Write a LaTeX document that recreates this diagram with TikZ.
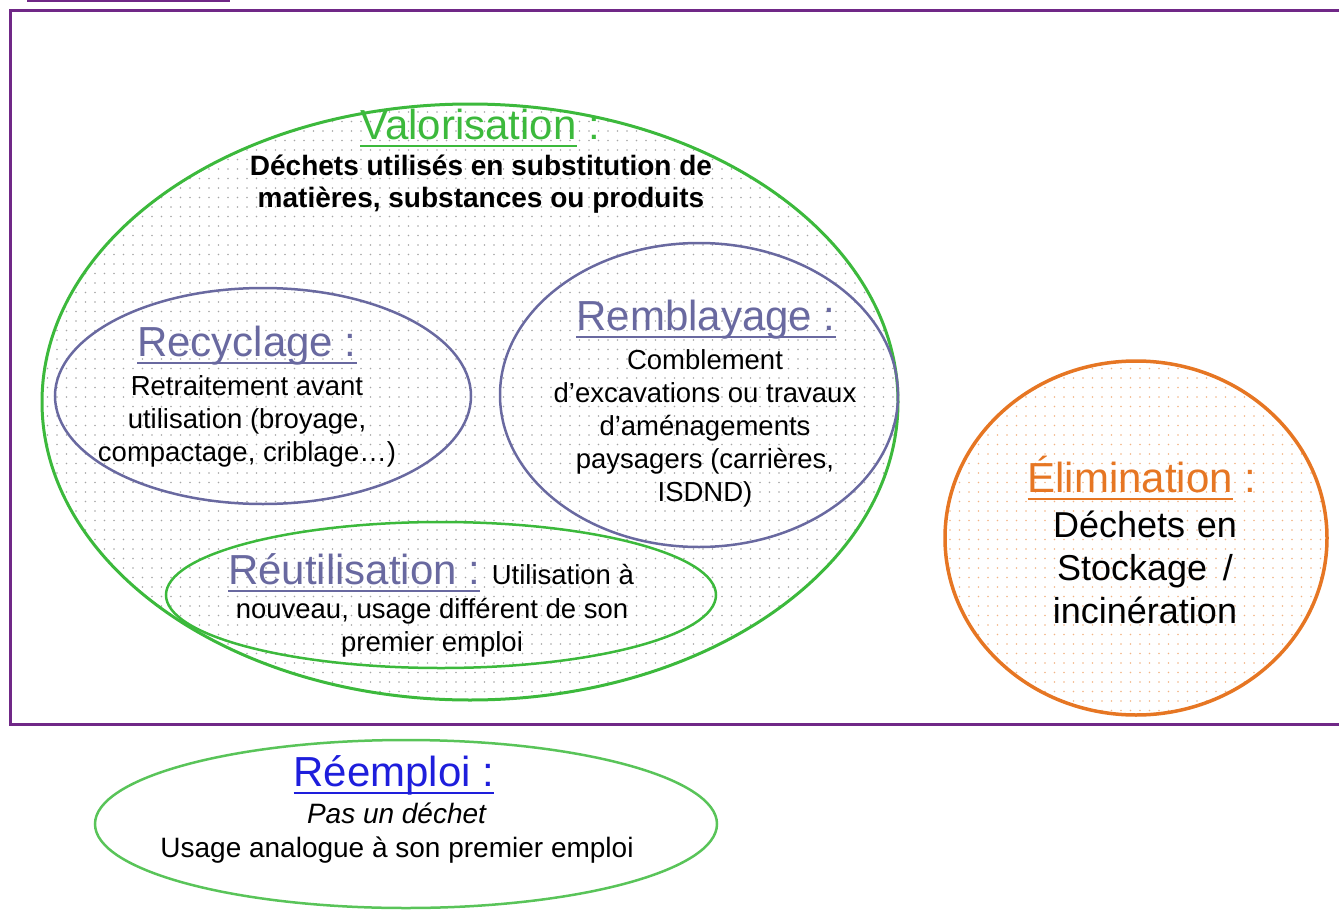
\documentclass[tikz,border=0pt]{standalone}
\usepackage{fontspec}
\setmainfont{Liberation Sans}
\usetikzlibrary{patterns.meta}
\definecolor{valgreen}{RGB}{60,185,60}
\definecolor{recblue}{RGB}{105,105,160}
\definecolor{elimorange}{RGB}{230,118,35}
\definecolor{framepurple}{RGB}{112,40,135}
\definecolor{reemblue}{RGB}{30,30,220}
\newcommand{\titleline}[1]{\setbox0\hbox{#1}\rlap{\rule[-8pt]{\wd0}{2.4pt}}\box0\relax}

\begin{document}
\begin{tikzpicture}[x=1pt,y=-1pt,
  headtext/.style={inner sep=0pt, anchor=base, font=\fontsize{42}{46}\selectfont},
  bodytext/.style={inner sep=0pt, align=center, font=\fontsize{27.5}{33}\selectfont},
  dotfill/.style={pattern={Dots[distance=9.5pt, radius=0.9pt]}, pattern color=#1}]

  \useasboundingbox (0,0) rectangle (1339,910);

  % Frame
  \draw[framepurple, line width=3pt] (1339,10) -- (10,10) -- (10,724) -- (1339,724);
  \draw[framepurple, line width=2pt] (27,1) -- (230,1);

  % Ellipses
  \draw[draw=valgreen, line width=3pt, dotfill=gray!70] (470,402) ellipse [x radius=428pt, y radius=298pt];
  \draw[recblue, line width=2.5pt] (263,396) ellipse [x radius=208pt, y radius=108pt];
  \draw[recblue, line width=2.5pt] (699,395) ellipse [x radius=199pt, y radius=152pt];
  \draw[valgreen, line width=2.5pt] (441,595) ellipse [x radius=275pt, y radius=73pt];
  \draw[draw=elimorange, line width=3.5pt, dotfill=elimorange!55] (1136,538) ellipse [x radius=191pt, y radius=177pt];
  \draw[valgreen!85, line width=2.5pt] (406,824) ellipse [x radius=311pt, y radius=84pt];

  % Valorisation
  \node[headtext, text=valgreen] (valotitle) at (480,139) {\titleline{Valorisation} :};
  \node[bodytext, font=\bfseries\fontsize{28}{32}\selectfont] (valobody) at (481,184)
    {Déchets utilisés en substitution de\\matières, substances ou produits};

  % Recyclage
  \node[headtext, text=recblue] (rectitle) at (247,356) {\titleline{Recyclage :}};
  \node[bodytext] (recbody) at (247,421) {Retraitement avant\\utilisation (broyage,\\compactage, criblage…)};

  % Remblayage
  \node[headtext, text=recblue] (remtitle) at (706,330) {\titleline{Remblayage :}};
  \node[bodytext] (rembody) at (705,428)
    {Comblement\\d’excavations ou travaux\\d’aménagements\\paysagers (carrières,\\ISDND)};

  % Reutilisation
  \node[headtext, text=recblue] (reutitle) at (431,584)
    {\titleline{Réutilisation :} {\color{black}\fontsize{27.5}{33}\selectfont Utilisation à}};
  \node[bodytext] (reubody) at (432,628) {nouveau, usage différent de son\\premier emploi};

  % Elimination
  \node[headtext, text=elimorange] (elimtitle) at (1142,492) {\titleline{Élimination} :};
  \node[bodytext, font=\fontsize{36}{43}\selectfont] (elimbody) at (1145,567)
    {\makebox[184pt][s]{Déchets en}\\\makebox[176pt][s]{Stockage /}\\incinération};

  % Reemploi
  \node[headtext, text=reemblue] (reemtitle) at (394,786) {\titleline{Réemploi :}};
  \node[bodytext, font=\fontsize{28}{34}\selectfont] (reembody) at (397,833)
    {\textit{Pas un déchet}\\Usage analogue à son premier emploi};

\end{tikzpicture}
\end{document}
